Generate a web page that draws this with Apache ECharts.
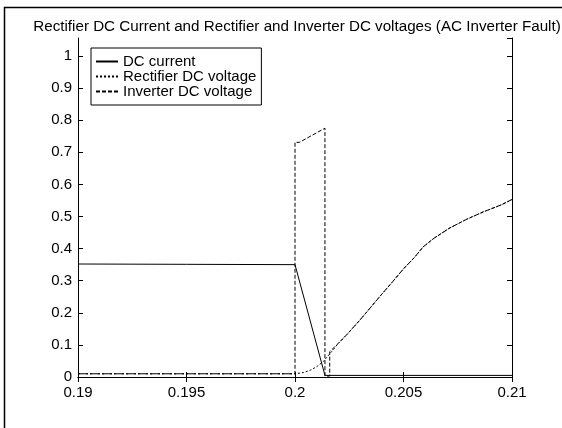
<!DOCTYPE html>
<html>
<head>
<meta charset="utf-8">
<script src="https://cdn.jsdelivr.net/npm/echarts@6/dist/echarts.min.js"></script>
<style>
  html, body { margin: 0; padding: 0; background: #fff; }
  #chart { width: 562px; height: 428px; }
</style>
</head>
<body>
<div id="chart"></div>
<script>
// Time axis ticks (s) and per-unit value ticks
const xTicks = [0.19, 0.195, 0.2, 0.205, 0.21];
const yTicks = [0, 0.1, 0.2, 0.3, 0.4, 0.5, 0.6, 0.7, 0.8, 0.9, 1];

// DC current
const currentTime = [0.19, 0.195, 0.2, 0.20138, 0.205, 0.21];
const currentVals = [0.352, 0.351, 0.350, 0.005, 0.005, 0.005];

// Rectifier DC voltage, pre-recovery part
const rectTime = [0.19, 0.195, 0.2, 0.2004, 0.2007, 0.2010, 0.2013, 0.2017];
const rectVals = [0.010, 0.010, 0.010, 0.014, 0.021, 0.032, 0.048, 0.080];

// Inverter DC voltage, pre-recovery part
const invTime = [0.19, 0.195, 0.2, 0.2, 0.2002, 0.20138, 0.20138, 0.2016, 0.2016];
const invVals = [0.010, 0.010, 0.010, 0.731, 0.731, 0.775, 0.003, 0.003, 0.079];

// Voltage recovery shared by both converters
const recoveryTime = [0.2020, 0.2024, 0.2030, 0.2035, 0.2040, 0.2045, 0.2050, 0.2055,
                      0.2059, 0.2064, 0.2071, 0.2079, 0.2087, 0.2095, 0.2100];
const recoveryVals = [0.105, 0.133, 0.178, 0.218, 0.258, 0.297, 0.337, 0.372,
                      0.405, 0.432, 0.463, 0.491, 0.515, 0.536, 0.553];

const pairs = (t, v) => t.map((x, i) => [x, v[i]]);
const currentData = pairs(currentTime, currentVals);
const rectData = pairs(rectTime, rectVals).concat(pairs(recoveryTime, recoveryVals));
const invData = pairs(invTime, invVals).concat(pairs(recoveryTime, recoveryVals));

const FONT = '"Liberation Sans", Arial, sans-serif';
const fmtX = v => String(+v.toFixed(3));
const fmtY = v => String(+v.toFixed(2));

const chart = echarts.init(document.getElementById('chart'), null, { renderer: 'canvas' });

const tickStyle = { show: true, inside: true, length: 5, lineStyle: { color: '#000', width: 1 } };
const lineStyle = { show: true, lineStyle: { color: '#000', width: 1 } };

chart.setOption({
  animation: false,
  backgroundColor: '#fff',
  textStyle: { fontFamily: FONT },
  title: {
    text: 'Rectifier DC Current and Rectifier and Inverter DC voltages (AC Inverter Fault)',
    left: 292,
    top: 14,
    textAlign: 'center',
    textStyle: { fontFamily: FONT, fontSize: 15.2, fontWeight: 'normal', color: '#000' }
  },
  graphic: [{
    type: 'rect',
    shape: { x: 4.5, y: 7.5, width: 700, height: 600 },
    style: { fill: null, stroke: '#000', lineWidth: 1.5 },
    silent: true
  }],
  legend: {
    orient: 'vertical',
    left: 91,
    top: 48,
    padding: [6, 5, 6, 4],
    itemGap: 0,
    itemWidth: 22,
    itemHeight: 12,
    borderColor: '#000',
    borderWidth: 1,
    backgroundColor: '#fff',
    itemStyle: { opacity: 0 },
    textStyle: { fontFamily: FONT, fontSize: 15, color: '#000', lineHeight: 14 },
    data: ['DC current', 'Rectifier DC voltage', 'Inverter DC voltage']
  },
  grid: { left: 78, right: 50, top: 38, bottom: 51, containLabel: false },
  xAxis: [{
    type: 'value', min: xTicks[0], max: xTicks[xTicks.length - 1], interval: 0.005,
    position: 'bottom',
    axisLine: lineStyle, axisTick: tickStyle, splitLine: { show: false },
    axisLabel: { color: '#000', fontSize: 15, fontFamily: FONT, margin: 8, formatter: fmtX }
  }, {
    type: 'value', min: xTicks[0], max: xTicks[xTicks.length - 1], interval: 0.005,
    position: 'top',
    axisLine: lineStyle, axisTick: tickStyle, splitLine: { show: false },
    axisLabel: { show: false }
  }],
  yAxis: [{
    type: 'value', min: yTicks[0], max: 1.056, interval: 0.1,
    position: 'left',
    axisLine: lineStyle, axisTick: tickStyle, splitLine: { show: false },
    axisLabel: { color: '#000', fontSize: 15, fontFamily: FONT, margin: 6,
                 showMaxLabel: false, formatter: fmtY }
  }, {
    type: 'value', min: yTicks[0], max: 1.056, interval: 0.1,
    position: 'right',
    axisLine: lineStyle, axisTick: tickStyle, splitLine: { show: false },
    axisLabel: { show: false }
  }],
  series: [{
    name: 'DC current', type: 'line', data: currentData,
    symbol: 'none', lineStyle: { color: '#000', width: 1, type: 'solid' },
    itemStyle: { color: '#000' }
  }, {
    name: 'Rectifier DC voltage', type: 'line', data: rectData,
    symbol: 'none', lineStyle: { color: '#000', width: 1, type: [2, 2] },
    itemStyle: { color: '#000' }
  }, {
    name: 'Inverter DC voltage', type: 'line', data: invData,
    symbol: 'none', lineStyle: { color: '#000', width: 1, type: [4, 2] },
    itemStyle: { color: '#000' }
  }]
});
</script>
</body>
</html>
